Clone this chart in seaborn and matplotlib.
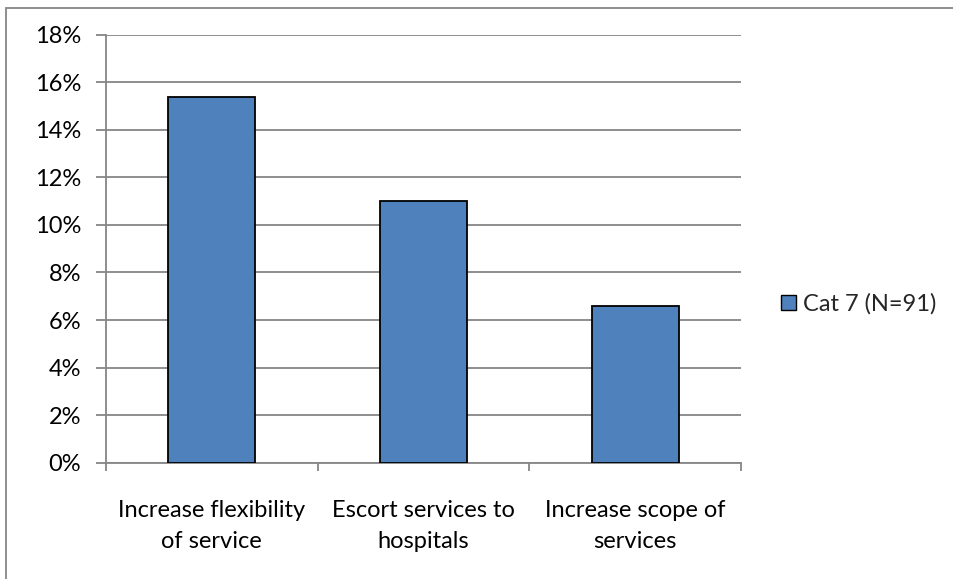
import matplotlib
matplotlib.use("Agg")
import matplotlib.pyplot as plt
import seaborn as sns
import pandas as pd
from matplotlib.ticker import PercentFormatter, FixedLocator
from matplotlib.patches import Rectangle

categories = ["Increase flexibility\nof service", "Escort services to\nhospitals", "Increase scope of\nservices"]
values = [15.38, 10.99, 6.59]
series_name = "Cat 7 (N=91)"
y_ticks = [0, 2, 4, 6, 8, 10, 12, 14, 16, 18]

df = pd.DataFrame({"category": categories, "value": values, "series": [series_name] * len(categories)})

sns.set_theme(style="white")
plt.rcParams["font.family"] = ["Lato", "DejaVu Sans"]

W, H = 954, 579
fig = plt.figure(figsize=(W / 100, H / 100), dpi=100)
ax = fig.add_axes([106 / W, 1 - 462.7 / H, (741 - 106) / W, (462.7 - 34.7) / H])

grid_c = "#868686"
sns.barplot(data=df, x="category", y="value", hue="series", palette=["#4F81BD"], saturation=1,
            width=0.41, edgecolor="black", linewidth=1.3, ax=ax, zorder=3, legend=True)

ax.set_xlim(-0.5, 2.5)
ax.set_ylim(0, 18)
ax.yaxis.set_major_locator(FixedLocator(y_ticks))
ax.yaxis.set_major_formatter(PercentFormatter(decimals=0))
ax.grid(axis="y", color=grid_c, linewidth=1.3, zorder=0)
ax.set_axisbelow(True)
ax.set_xlabel("")
ax.set_ylabel("")

for s in ["top", "right"]:
    ax.spines[s].set_visible(False)
for s in ["left", "bottom"]:
    ax.spines[s].set_color(grid_c)
    ax.spines[s].set_linewidth(1.3)

fs = 17
ax.tick_params(axis="y", which="major", length=7, width=1.3, color=grid_c, pad=11,
               labelsize=fs, labelcolor="black", left=True, direction="out")
ax.set_xticks([-0.5, 0.5, 1.5, 2.5], minor=True)
ax.tick_params(axis="x", which="minor", length=5.5, width=1.3, color=grid_c, bottom=True, direction="out")
ax.tick_params(axis="x", which="major", length=0, pad=27, labelsize=fs, labelcolor="black")
for lbl in ax.get_xticklabels():
    lbl.set_linespacing(1.6)
    lbl.set_ha("center")

leg = ax.legend(loc="center left", bbox_to_anchor=(781 / W, 1 - 304 / H), bbox_transform=fig.transFigure,
                frameon=False, fontsize=fs, handlelength=0.64, handleheight=0.64,
                handletextpad=0.3, borderaxespad=0, borderpad=0)
for h in leg.legend_handles:
    h.set_edgecolor("black")
    h.set_linewidth(1.0)

# outer chart frame (clipped at right and bottom as in the source image)
fig.add_artist(Rectangle((5.7 / W, -0.05), 1.1, 1 - 8.3 / H + 0.05, transform=fig.transFigure,
                         fill=False, edgecolor=grid_c, linewidth=1.3))

fig.savefig("out.png", dpi=100)
